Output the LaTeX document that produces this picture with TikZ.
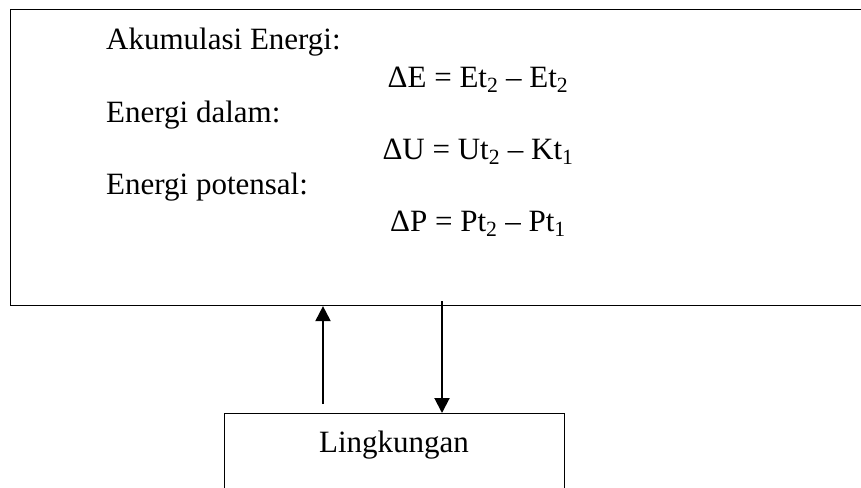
\documentclass[tikz,border=0pt]{standalone}
\usepackage{fontspec}
\setmainfont{Liberation Serif}
\usetikzlibrary{arrows.meta}
\begin{document}
\begin{tikzpicture}[x=1pt,y=-1pt,
  boxstyle/.style={draw=black, line width=1.1pt, inner sep=0pt, fill=none},
  lbl/.style={font=\fontsize{31}{36}\selectfont, inner sep=0pt},
  arr/.style={line width=2pt, -{Triangle[width=15pt,length=15pt]}}]
\useasboundingbox (0,0) rectangle (861,487);
\clip (0,0) rectangle (861,487);
\fill[white] (0,0) rectangle (861,487);
\node[boxstyle, minimum width=880pt, minimum height=296pt, anchor=north west] (sys) at (10,9) {};
\node[boxstyle, minimum width=340pt, minimum height=100pt, anchor=north west] (env) at (224,413) {};
\node[lbl, anchor=base west] (t1) at (106,49) {Akumulasi Energi:};
\node[lbl, anchor=base] (e1) at (478,87) {ΔE = Et\textsubscript{2} – Et\textsubscript{2}};
\node[lbl, anchor=base west] (t2) at (106,122) {Energi dalam:};
\node[lbl, anchor=base] (e2) at (478,159) {ΔU = Ut\textsubscript{2} – Kt\textsubscript{1}};
\node[lbl, anchor=base west] (t3) at (106,194) {Energi potensal:};
\node[lbl, anchor=base] (e3) at (478,231) {ΔP = Pt\textsubscript{2} – Pt\textsubscript{1}};
\node[lbl, anchor=base] (env-t) at (394,452) {Lingkungan};
\coordinate (up0) at (323,404);
\coordinate (dn0) at (442,301);
\draw[arr] (up0) -- (up0 |- sys.south);
\draw[arr] (dn0) -- (dn0 |- env.north);
\end{tikzpicture}
\end{document}
